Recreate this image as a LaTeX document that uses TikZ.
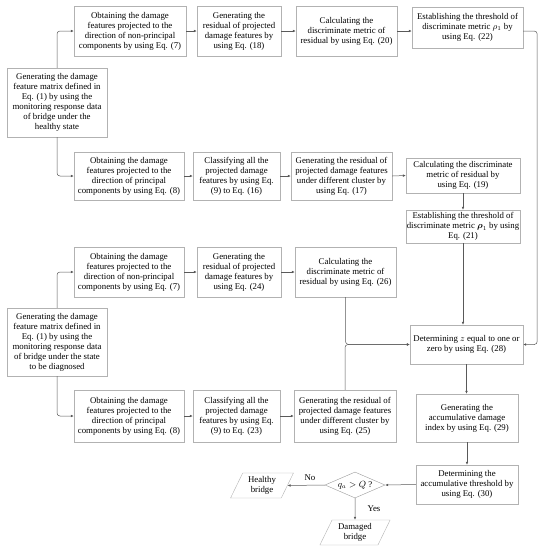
\documentclass[tikz,border=0pt]{standalone}
\usepackage{amsmath,amssymb}
\usepackage{fontspec}
\setmainfont{Liberation Serif}
\usepackage{tikz}
\usetikzlibrary{positioning,arrows.meta,shapes.geometric}
\tikzset{
	stepbox/.style 2 args={draw=black!30, align=center, inner sep=0pt,
		minimum width=#1pt, minimum height=#2pt, font=\fontsize{8.8}{10}\selectfont},
	outbox/.style={draw=black!30, trapezium, trapezium left angle=64, trapezium right angle=116,
		align=center, inner xsep=1.5pt, inner ysep=1pt, minimum height=25pt, font=\fontsize{8.8}{10}\selectfont},
	decide/.style={draw=black!40, diamond, aspect=2.3, inner sep=0pt, minimum width=60pt,
		minimum height=26pt, font=\fontsize{8.8}{10}\selectfont},
	flow/.style={draw=black!65, line width=0.5pt, -{Latex[length=3pt,width=2.6pt]}, rounded corners=3pt},
	tag/.style={font=\fontsize{8.8}{10}\selectfont}
}

\begin{document}
\begin{tikzpicture}[x=1pt, y=-1pt]
		\useasboundingbox (0,0) rectangle (545,550);
		
		% healthy state
		\node[stepbox={100}{69}] (h) at (57,102.5) {Generating the damage\\feature matrix defined in\\Eq. (1) by using the\\monitoring response data\\of bridge under the\\healthy state};
		
		\node[stepbox={112}{50}] (a1) at (130,31) {Obtaining the damage\\features projected to the\\direction of non-principal\\components by using Eq. (7)};
		\node[stepbox={84}{50}] (a2) at (239,31) {Generating the\\residual of projected\\damage features by\\using Eq. (18)};
		\node[stepbox={101}{50}] (a3) at (346.5,31) {Calculating the\\discriminate metric of\\residual by using Eq. (20)};
		\node[stepbox={111}{41}] (a4) at (467.5,27.5) {Establishing the threshold of\\discriminate metric $\rho_1$ by\\using Eq. (22)};
		
		\node[stepbox={110}{48}] (b1) at (129,176) {Obtaining the damage\\features projected to the\\direction of principal\\components by using Eq. (8)};
		\node[stepbox={87}{48}] (b2) at (236.5,176) {Classifying all the\\projected damage\\features by using Eq.\\(9) to Eq. (16)};
		\node[stepbox={101}{48}] (b3) at (341.5,176) {Generating the residual of\\projected damage features\\under different cluster by\\using Eq. (17)};
		\node[stepbox={114}{35}] (b4) at (463,175.5) {Calculating the discriminate\\metric of residual by\\using Eq. (19)};
		\node[stepbox={114}{33}] (b5) at (463,226.5) {Establishing the threshold of\\discriminate metric $\boldsymbol{\rho}_1$ by using\\Eq. (21)};
		
		% state to be diagnosed
		\node[stepbox={100}{68}] (d) at (57,342) {Generating the damage\\feature matrix defined in\\Eq. (1) by using the\\monitoring response data\\of bridge under the state\\to be diagnosed};
		
		\node[stepbox={110}{50}] (c1) at (129,272) {Obtaining the damage\\features projected to the\\direction of non-principal\\components by using Eq. (7)};
		\node[stepbox={84}{50}] (c2) at (239,272) {Generating the\\residual of projected\\damage features by\\using Eq. (24)};
		\node[stepbox={101}{50}] (c3) at (345.5,272) {Calculating the\\discriminate metric of\\residual by using Eq. (26)};
		
		\node[stepbox={110}{52}] (e1) at (129,416) {Obtaining the damage\\features projected to the\\direction of principal\\components by using Eq. (8)};
		\node[stepbox={87}{52}] (e2) at (236.5,416) {Classifying all the\\projected damage\\features by using Eq.\\(9) to Eq. (23)};
		\node[stepbox={102}{52}] (e3) at (345,416) {Generating the residual of\\projected damage features\\under different cluster by\\using Eq. (25)};
		
		\node[stepbox={113}{39}] (z) at (466.5,344.5) {Determining $z$ equal to one or\\zero by using Eq. (28)};
		\node[stepbox={102}{48}] (f) at (467,418) {Generating the\\accumulative damage\\index by using Eq. (29)};
		\node[stepbox={102}{39}] (g) at (467,484.5) {Determining the\\accumulative threshold by\\using Eq. (30)};
		
		\node[decide] (q) at (355,485) {$q_a > Q$ ?};
		\node[outbox] (hb) at (262,485.5) {Healthy\\bridge};
		\node[outbox] (db) at (355,532.5) {Damaged\\bridge};
		
		% connectors
		\draw[flow] (h.north) |- (a1.west);
		\draw[flow] (h.south) |- (b1.west);
		\draw[flow] (a1.east) -- (a2.west);
		\draw[flow] (a2.east) -- (a3.west);
		\draw[flow] (a3.east) -- (a3.east -| a4.west);
		\draw[flow] (a4.east |- a3.east) -- ++(14,0) |- (z.east);
		
		\draw[flow] (b1.east) -- (b2.west);
		\draw[flow] (b2.east) -- (b3.west);
		\draw[flow] (b3.east) -- (b4.west);
		\draw[flow] (b4.south) -- (b5.north);
		\draw[flow] (b5.south) -- (b5.south |- z.north);
		
		\draw[flow] (d.north) |- (c1.west);
		\draw[flow] (d.south) |- (e1.west);
		\draw[flow] (c1.east) -- (c2.west);
		\draw[flow] (c2.east) -- (c3.west);
		\draw[flow] (e1.east) -- (e2.west);
		\draw[flow] (e2.east) -- (e3.west);
		\draw[flow] (c3.south) |- (z.west);
		\draw[flow] (e3.north) |- (z.west);
		
		\draw[flow] (z.south) -- (z.south |- f.north);
		\draw[flow] (f.south) -- (g.north);
		\draw[flow] (g.west) -- (q.east);
		\draw[flow] (q.west) -- (hb.east) node[tag, pos=0.4, above=1pt] {No};
		\draw[flow] (q.south) -- (db.north) node[tag, midway, right=9pt] {Yes};
	\end{tikzpicture}
\end{document}
